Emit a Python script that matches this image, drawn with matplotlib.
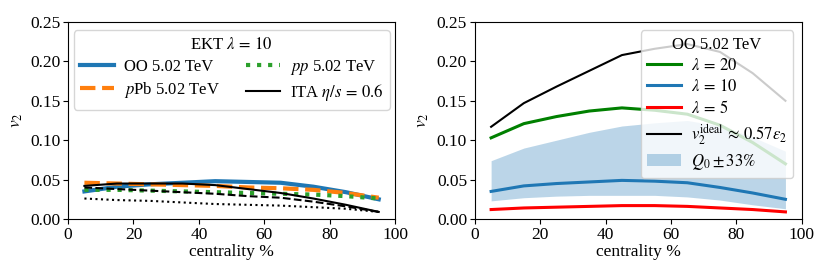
import matplotlib
matplotlib.use("Agg")
import matplotlib.pyplot as plt
import numpy as np

plt.rcParams['font.family'] = ['Liberation Serif', 'DejaVu Serif']
plt.rcParams['mathtext.fontset'] = 'stix'

centrality = [5, 15, 25, 35, 45, 55, 65, 75, 85, 95]

# left panel
oo_ekt = [0.035, 0.041, 0.044, 0.046, 0.048, 0.047, 0.046, 0.041, 0.034, 0.025]
ppb_ekt = [0.046, 0.045, 0.044, 0.043, 0.042, 0.040, 0.039, 0.037, 0.033, 0.027]
pp_ekt = [0.037, 0.037, 0.036, 0.035, 0.034, 0.033, 0.032, 0.031, 0.029, 0.026]
oo_ita = [0.042, 0.045, 0.045, 0.045, 0.043, 0.038, 0.033, 0.026, 0.018, 0.009]
ppb_ita = [0.040, 0.038, 0.036, 0.034, 0.032, 0.029, 0.027, 0.022, 0.016, 0.009]
pp_ita = [0.026, 0.024, 0.023, 0.021, 0.019, 0.018, 0.017, 0.015, 0.013, 0.009]

# right panel
lam20 = [0.103, 0.121, 0.130, 0.137, 0.141, 0.138, 0.133, 0.119, 0.097, 0.070]
lam10 = [0.035, 0.042, 0.045, 0.047, 0.049, 0.048, 0.046, 0.040, 0.033, 0.025]
lam5 = [0.012, 0.014, 0.015, 0.016, 0.017, 0.017, 0.016, 0.014, 0.012, 0.009]
ideal = [0.117, 0.147, 0.168, 0.188, 0.208, 0.216, 0.222, 0.212, 0.185, 0.150]
band_lo = [0.023, 0.027, 0.029, 0.030, 0.030, 0.030, 0.028, 0.024, 0.018, 0.013]
band_hi = [0.074, 0.090, 0.100, 0.110, 0.118, 0.122, 0.125, 0.118, 0.104, 0.086]

fig = plt.figure(figsize=(8.3, 2.77), dpi=100)
ax1 = fig.add_axes([0.082, 0.2094, 0.394, 0.7112])
ax2 = fig.add_axes([0.572, 0.2094, 0.394, 0.7112])

FS = 12.5
LFS = 12

ax1.plot(centrality, oo_ekt, color='#1f77b4', lw=3, label='OO 5.02 TeV')
ax1.plot(centrality, ppb_ekt, color='#ff7f0e', lw=3, ls='--', label=r'$p$Pb 5.02 TeV')
ax1.plot(centrality, pp_ekt, color='#2ca02c', lw=3, ls=':', label=r'$pp$ 5.02 TeV')
ax1.plot(centrality, oo_ita, color='k', lw=1.5, label=r'ITA $\eta/s\,=\,0.6$')
ax1.plot(centrality, ppb_ita, color='k', lw=1.5, ls='--')
ax1.plot(centrality, pp_ita, color='k', lw=1.5, ls=':')
ax1.legend(title=r'EKT $\lambda\,=\,10$', ncol=2, loc='upper center', fontsize=LFS,
           title_fontsize=LFS, handlelength=2.0, handletextpad=0.6, columnspacing=1.6,
           borderpad=0.4, labelspacing=0.3)

ax2.fill_between(centrality, band_lo, band_hi, color='#1f77b4', alpha=0.3, lw=0,
                 label=r'$Q_0\pm 33\%$')
ax2.plot(centrality, lam20, color='green', lw=2.2, label=r'$\lambda\,=\,20$')
ax2.plot(centrality, lam10, color='#1f77b4', lw=2.2, label=r'$\lambda\,=\,10$')
ax2.plot(centrality, lam5, color='red', lw=2.2, label=r'$\lambda\,=\,5$')
ax2.plot(centrality, ideal, color='k', lw=1.5, label=r'$v_2^{\rm ideal}\,\approx\,0.57\varepsilon_2$')
h, l = ax2.get_legend_handles_labels()
order = [1, 2, 3, 4, 0]
ax2.legend([h[i] for i in order], [l[i] for i in order], title='OO 5.02 TeV',
           loc='upper right', fontsize=LFS, title_fontsize=LFS, handlelength=2.0,
           handletextpad=0.6, borderpad=0.4, labelspacing=0.3)

for ax in (ax1, ax2):
    ax.set_xlim(0, 100)
    ax.set_ylim(0, 0.25)
    ax.set_xticks([0, 20, 40, 60, 80, 100])
    ax.set_yticks([0, 0.05, 0.10, 0.15, 0.20, 0.25])
    ax.set_yticklabels(['0.00', '0.05', '0.10', '0.15', '0.20', '0.25'])
    ax.tick_params(labelsize=FS, pad=2)
    ax.set_xlabel('centrality %', fontsize=FS, labelpad=1)
    ax.set_ylabel(r'$v_2$', fontsize=FS, labelpad=4)

fig.savefig('out.png', dpi=100)
